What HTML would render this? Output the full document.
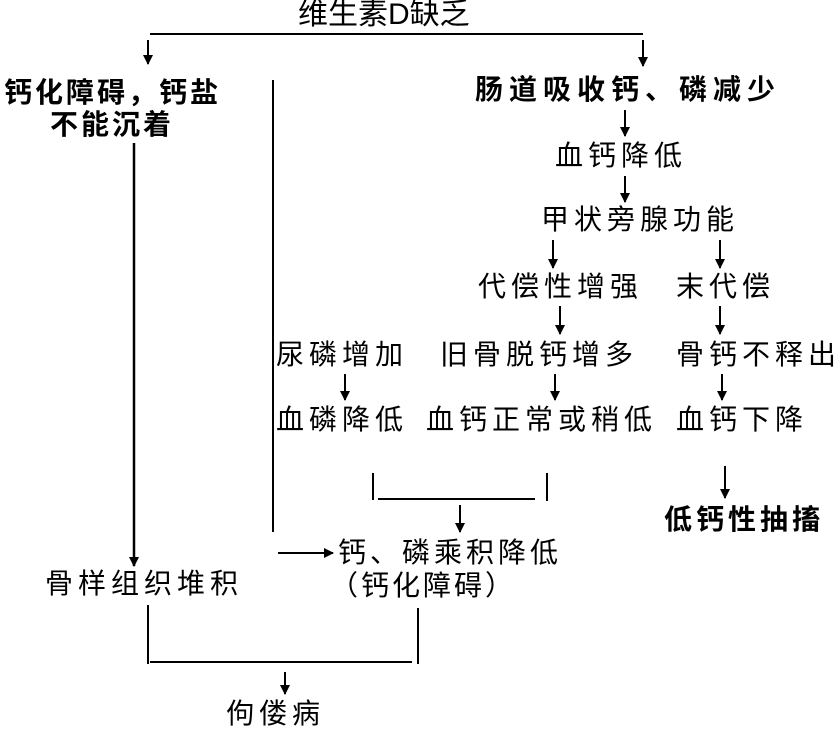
<!DOCTYPE html>
<html><head><meta charset="utf-8"><style>
body{margin:0;width:837px;height:729px;background:#fff;position:relative;overflow:hidden;font-family:"Liberation Sans","Noto Sans CJK SC",sans-serif;color:#000}
.t{position:absolute;font-size:28px;line-height:30px;white-space:nowrap;letter-spacing:5px}
svg{position:absolute;left:0;top:0}
</style></head><body>
<svg width="837" height="729" stroke="#000" stroke-width="2" fill="none">
<defs><marker id="a" markerWidth="10" markerHeight="10" refX="9" refY="5" orient="auto" markerUnits="userSpaceOnUse"><path d="M0,0 L10,5 L0,10 z" fill="#000" stroke="none"/></marker></defs>
<line x1="150" y1="34" x2="643" y2="34"/>
<line x1="148" y1="40" x2="148" y2="64" marker-end="url(#a)"/>
<line x1="643" y1="40" x2="643" y2="66" marker-end="url(#a)"/>
<line x1="134" y1="143" x2="134" y2="566" marker-end="url(#a)" stroke-width="2.5"/>
<line x1="273" y1="80" x2="273" y2="532"/>
<line x1="278" y1="553" x2="333" y2="553" marker-end="url(#a)"/>
<line x1="625" y1="110" x2="625" y2="136" marker-end="url(#a)"/>
<line x1="625" y1="176" x2="625" y2="202" marker-end="url(#a)"/>
<line x1="553" y1="240" x2="553" y2="268" marker-end="url(#a)"/>
<line x1="720" y1="240" x2="720" y2="268" marker-end="url(#a)"/>
<line x1="560" y1="306" x2="560" y2="334" marker-end="url(#a)"/>
<line x1="720" y1="306" x2="720" y2="334" marker-end="url(#a)"/>
<line x1="345" y1="374" x2="345" y2="400" marker-end="url(#a)"/>
<line x1="555" y1="374" x2="555" y2="400" marker-end="url(#a)"/>
<line x1="722" y1="374" x2="722" y2="400" marker-end="url(#a)"/>
<line x1="373" y1="473" x2="373" y2="500"/>
<line x1="547" y1="473" x2="547" y2="501"/>
<line x1="378" y1="499" x2="535" y2="499"/>
<line x1="460" y1="505" x2="460" y2="532" marker-end="url(#a)"/>
<line x1="725" y1="466" x2="725" y2="498" marker-end="url(#a)"/>
<line x1="148" y1="605" x2="148" y2="664"/>
<line x1="418" y1="608" x2="418" y2="664"/>
<line x1="150" y1="662" x2="412" y2="662"/>
<line x1="285" y1="672" x2="285" y2="694" marker-end="url(#a)"/>
</svg>
<div class="t" style="left:298px;top:0px;letter-spacing:0px;font-size:30px">维生素D缺乏</div>
<div class="t" style="left:4px;top:78px;font-weight:bold;letter-spacing:3px">钙化障碍，钙盐</div>
<div class="t" style="left:50px;top:110px;font-weight:bold;letter-spacing:3px">不能沉着</div>
<div class="t" style="left:475px;top:75px;font-weight:bold;letter-spacing:6px">肠道吸收钙、磷减少</div>
<div class="t" style="left:555px;top:141px">血钙降低</div>
<div class="t" style="left:541px;top:205px">甲状旁腺功能</div>
<div class="t" style="left:478px;top:272px">代偿性增强</div>
<div class="t" style="left:676px;top:272px">末代偿</div>
<div class="t" style="left:276px;top:340px">尿磷增加</div>
<div class="t" style="left:440px;top:340px">旧骨脱钙增多</div>
<div class="t" style="left:676px;top:340px">骨钙不释出</div>
<div class="t" style="left:276px;top:405px">血磷降低</div>
<div class="t" style="left:426px;top:405px">血钙正常或稍低</div>
<div class="t" style="left:676px;top:405px">血钙下降</div>
<div class="t" style="left:664px;top:505px;font-weight:bold;letter-spacing:4px">低钙性抽搐</div>
<div class="t" style="left:338px;top:538px;letter-spacing:4px">钙、磷乘积降低</div>
<div class="t" style="left:330px;top:571px;letter-spacing:3px">（钙化障碍）</div>
<div class="t" style="left:45px;top:569px">骨样组织堆积</div>
<div class="t" style="left:226px;top:699px">佝偻病</div>
</body></html>
